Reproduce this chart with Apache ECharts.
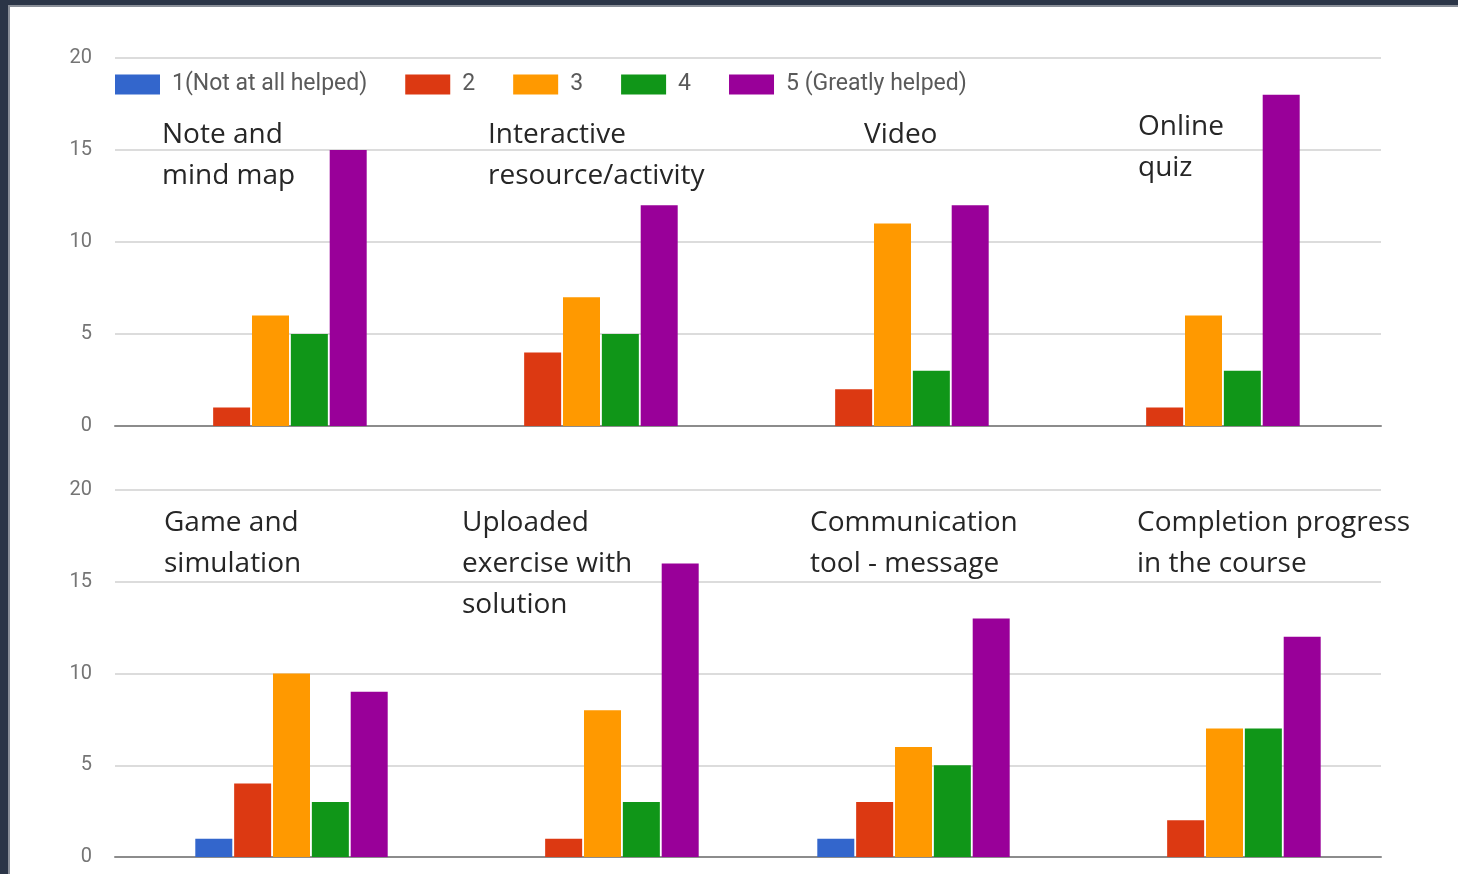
<!DOCTYPE html>
<html lang="en">
<head>
<meta charset="UTF-8">
<title>Helpfulness ratings</title>
<script src="https://cdn.jsdelivr.net/npm/echarts@6/dist/echarts.min.js"></script>
<style>
  html, body { margin: 0; padding: 0; width: 1458px; height: 874px; background: #2b3547; overflow: hidden; }
  #paper { position: absolute; left: 8px; top: 5px; right: 0; bottom: 0; background: #fff; border-left: 2px solid #8a8f98; border-top: 2px solid #8a8f98; }
  #chart { position: absolute; left: 0; top: 0; width: 1458px; height: 874px; }
</style>
</head>
<body>
<div id="paper"></div>
<div id="chart"></div>
<script type="text/javascript">
    // rating levels (legend)
    var ratings = ['1(Not at all helped)', '2', '3', '4', '5 (Greatly helped)'];
    var colors = ['#3366cc', '#dc3912', '#ff9900', '#109618', '#990099'];

    // top panel
    var topCats = ['Note and\nmind map', 'Interactive\nresource/activity', 'Video', 'Online\nquiz'];
    var topR1 = [0, 0, 0, 0];
    var topR2 = [1, 4, 2, 1];
    var topR3 = [6, 7, 11, 6];
    var topR4 = [5, 5, 3, 3];
    var topR5 = [15, 12, 12, 18];

    // bottom panel
    var botCats = ['Game and\nsimulation', 'Uploaded\nexercise with\nsolution', 'Communication\ntool - message', 'Completion progress\nin the course'];
    var botR1 = [1, 0, 1, 0];
    var botR2 = [4, 1, 3, 2];
    var botR3 = [10, 8, 6, 7];
    var botR4 = [3, 3, 5, 7];
    var botR5 = [9, 16, 13, 12];

    var yTicks = [0, 5, 10, 15, 20];

    var topData = [topR1, topR2, topR3, topR4, topR5];
    var botData = [botR1, botR2, botR3, botR4, botR5];

    // where each category caption sits
    var topCaptionPos = [[162, 115], [488, 115], [864, 115], [1138, 107]];
    var botCaptionPos = [[164, 503], [462, 503], [810, 503], [1137, 503]];

    // grids 0,1 hold the bars; grids 2,3 carry the gridlines / labels (they are wider)
    var yMin = yTicks[0], yMax = yTicks[yTicks.length - 1];

    function barYAxis(idx) {
        return {
            type: 'value', gridIndex: idx, min: yMin, max: yMax, interval: 5,
            axisLine: {show: false}, axisTick: {show: false},
            axisLabel: {show: false}, splitLine: {show: false}
        };
    }
    function deco_yAxis(idx) {
        return {
            type: 'value', gridIndex: idx, min: yMin, max: yMax, interval: 5,
            axisLine: {show: false}, axisTick: {show: false},
            axisLabel: {color: '#757575', fontSize: 20, fontFamily: 'Roboto, Arial', margin: 23},
            splitLine: {lineStyle: {color: '#dcdcdc', width: 2}}
        };
    }
    function barXAxis(idx, cats) {
        return {
            type: 'category', gridIndex: idx, data: cats,
            axisLine: {show: false}, axisTick: {show: false}, axisLabel: {show: false}
        };
    }
    function deco_xAxis(idx) {
        return {
            type: 'value', gridIndex: idx, min: 0, max: 1,
            axisLine: {show: true, onZero: false, lineStyle: {color: '#8c8c8c', width: 2}},
            axisTick: {show: false}, axisLabel: {show: false}, splitLine: {show: false}
        };
    }

    var series = [];
    function addSeries(data, axisIdx) {
        ratings.forEach(function (r, i) {
            series.push({
                name: r, type: 'bar', xAxisIndex: axisIdx, yAxisIndex: axisIdx,
                barWidth: 37, barGap: '5%', z: 3,
                itemStyle: {color: colors[i]},
                data: data[i]
            });
        });
    }
    addSeries(topData, 0);
    addSeries(botData, 1);

    var captions = [];
    function addCaptions(cats, pos) {
        cats.forEach(function (c, i) {
            captions.push({
                type: 'text', left: pos[i][0], top: pos[i][1], z: 10,
                style: {text: c, fill: '#262626', font: '28px "Open Sans", Lato, sans-serif', lineHeight: 41}
            });
        });
    }
    addCaptions(topCats, topCaptionPos);
    addCaptions(botCats, botCaptionPos);

    var option = {
        animation: false,
        color: colors,
        legend: {
            data: ratings, left: 110, top: 68,
            itemWidth: 45, itemHeight: 20, itemGap: 38,
            icon: 'rect',
            textStyle: {color: '#5a5a5a', fontSize: 23, fontFamily: 'Roboto, Arial', padding: [0, 0, 0, 7]}
        },
        grid: [
            {left: 115, right: 99, top: 58, height: 368},
            {left: 136, right: 78, top: 490, height: 367},
            {left: 115, right: 77, top: 58, height: 368},
            {left: 115, right: 77, top: 490, height: 367}
        ],
        xAxis: [barXAxis(0, topCats), barXAxis(1, botCats), deco_xAxis(2), deco_xAxis(3)],
        yAxis: [barYAxis(0), barYAxis(1), deco_yAxis(2), deco_yAxis(3)],
        graphic: captions,
        series: series
    };

    var chart = echarts.init(document.getElementById('chart'));
    chart.setOption(option);
</script>
</body>
</html>
